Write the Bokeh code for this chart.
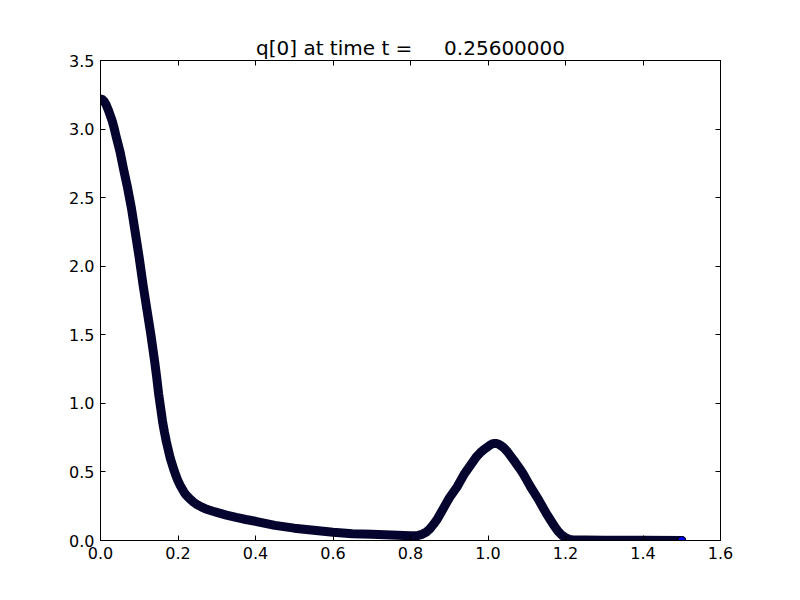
from bokeh.plotting import figure
from bokeh.models import Range1d, LinearAxis, FixedTicker, PrintfTickFormatter
from bokeh.embed import file_html
from bokeh.resources import INLINE

# data
x_vals = [0.000, 0.005, 0.010, 0.015, 0.020, 0.025, 0.030, 0.035, 0.040,
          0.05, 0.06, 0.07, 0.08, 0.09, 0.10, 0.11, 0.12, 0.13, 0.14,
          0.145, 0.150, 0.155, 0.160, 0.165, 0.170, 0.175, 0.180, 0.185,
          0.190, 0.195, 0.200, 0.205, 0.210, 0.215, 0.220, 0.23, 0.24,
          0.25, 0.26, 0.27, 0.28, 0.29, 0.30, 0.325, 0.35, 0.375, 0.40, 0.45,
          0.50, 0.55, 0.60, 0.65, 0.70, 0.75, 0.80, 0.81, 0.82, 0.83,
          0.84, 0.85, 0.86, 0.87, 0.88, 0.89, 0.90, 0.91, 0.92, 0.93,
          0.94, 0.95, 0.96, 0.97, 0.98, 0.99, 1.00, 1.005, 1.01, 1.015,
          1.02, 1.025, 1.03,
          1.04, 1.05, 1.06, 1.07, 1.08, 1.09, 1.10, 1.11, 1.12, 1.13,
          1.14, 1.15, 1.16, 1.17, 1.18, 1.19, 1.20, 1.21, 1.22, 1.25,
          1.30, 1.40, 1.50]
q_vals = [3.22, 3.215, 3.20, 3.175, 3.14, 3.10, 3.06, 3.01, 2.95,
          2.84, 2.70, 2.57, 2.42, 2.24, 2.06, 1.86, 1.68, 1.50, 1.30,
          1.19, 1.07, 0.97, 0.87, 0.79, 0.72, 0.66, 0.60, 0.555,
          0.51, 0.47, 0.435, 0.405, 0.38, 0.355, 0.335, 0.305, 0.28,
          0.26, 0.245, 0.232, 0.222, 0.213, 0.205, 0.185, 0.168, 0.153, 0.14, 0.11,
          0.09, 0.075, 0.06, 0.05, 0.045, 0.04, 0.035, 0.035, 0.037, 0.045,
          0.06, 0.085, 0.12, 0.16, 0.21, 0.26, 0.31, 0.35, 0.39, 0.44,
          0.49, 0.53, 0.57, 0.61, 0.64, 0.665, 0.685, 0.695, 0.703, 0.708,
          0.708, 0.705, 0.698,
          0.678, 0.648, 0.61, 0.572, 0.532, 0.49, 0.44, 0.39, 0.345, 0.30,
          0.25, 0.20, 0.155, 0.11, 0.07, 0.04, 0.02, 0.008, 0.004, 0.003,
          0.002, 0.001, 0.0]
x_ticks = [0.0, 0.2, 0.4, 0.6, 0.8, 1.0, 1.2, 1.4, 1.6]
y_ticks = [0.0, 0.5, 1.0, 1.5, 2.0, 2.5, 3.0, 3.5]
title_text = "q[0] at time t =\u00a0\u00a0\u00a0\u00a0\u00a00.25600000"

W, H = 784, 584
p = figure(width=W, height=H, output_backend="svg", toolbar_location=None,
           x_range=Range1d(0, 1.6), y_range=Range1d(0, 3.5),
           title=title_text, x_axis_location=None, y_axis_location=None,
           min_border_left=100, min_border_right=64, min_border_top=60,
           min_border_bottom=44)
p.title.align = "center"
p.title.text_font = "DejaVu Sans"
p.title.text_font_size = "20px"
p.title.text_font_style = "normal"
p.title.text_color = "black"
p.title.offset = 0
p.title.standoff = 1

p.xgrid.visible = False
p.ygrid.visible = False
p.outline_line_color = "black"
p.outline_line_width = 1
p.background_fill_color = "white"
p.border_fill_color = "white"

def style(ax, ticks, labels=True):
    ax.ticker = FixedTicker(ticks=ticks)
    ax.formatter = PrintfTickFormatter(format="%.1f")
    ax.major_tick_in = 5
    ax.major_tick_out = 0
    ax.minor_tick_line_color = None
    ax.axis_line_color = "black"
    ax.major_tick_line_color = "black"
    ax.major_label_text_font = "DejaVu Sans"
    ax.major_label_text_font_size = "16px"
    ax.major_label_text_color = "black"
    ax.major_label_standoff = 6
    if not labels:
        ax.major_label_text_alpha = 0
    return ax

p.add_layout(style(LinearAxis(), x_ticks), "below")
p.add_layout(style(LinearAxis(), y_ticks), "left")
p.add_layout(style(LinearAxis(), x_ticks, labels=False), "above")
p.add_layout(style(LinearAxis(), y_ticks, labels=False), "right")

p.line(x_vals, q_vals, line_width=9, line_color="#04042e",
       line_cap="round", line_join="round")
p.scatter(x_vals[-1:], q_vals[-1:], size=8, fill_color="#0000ff",
          line_color="black", line_width=1)

open("out.html", "w").write(file_html(p, INLINE))
